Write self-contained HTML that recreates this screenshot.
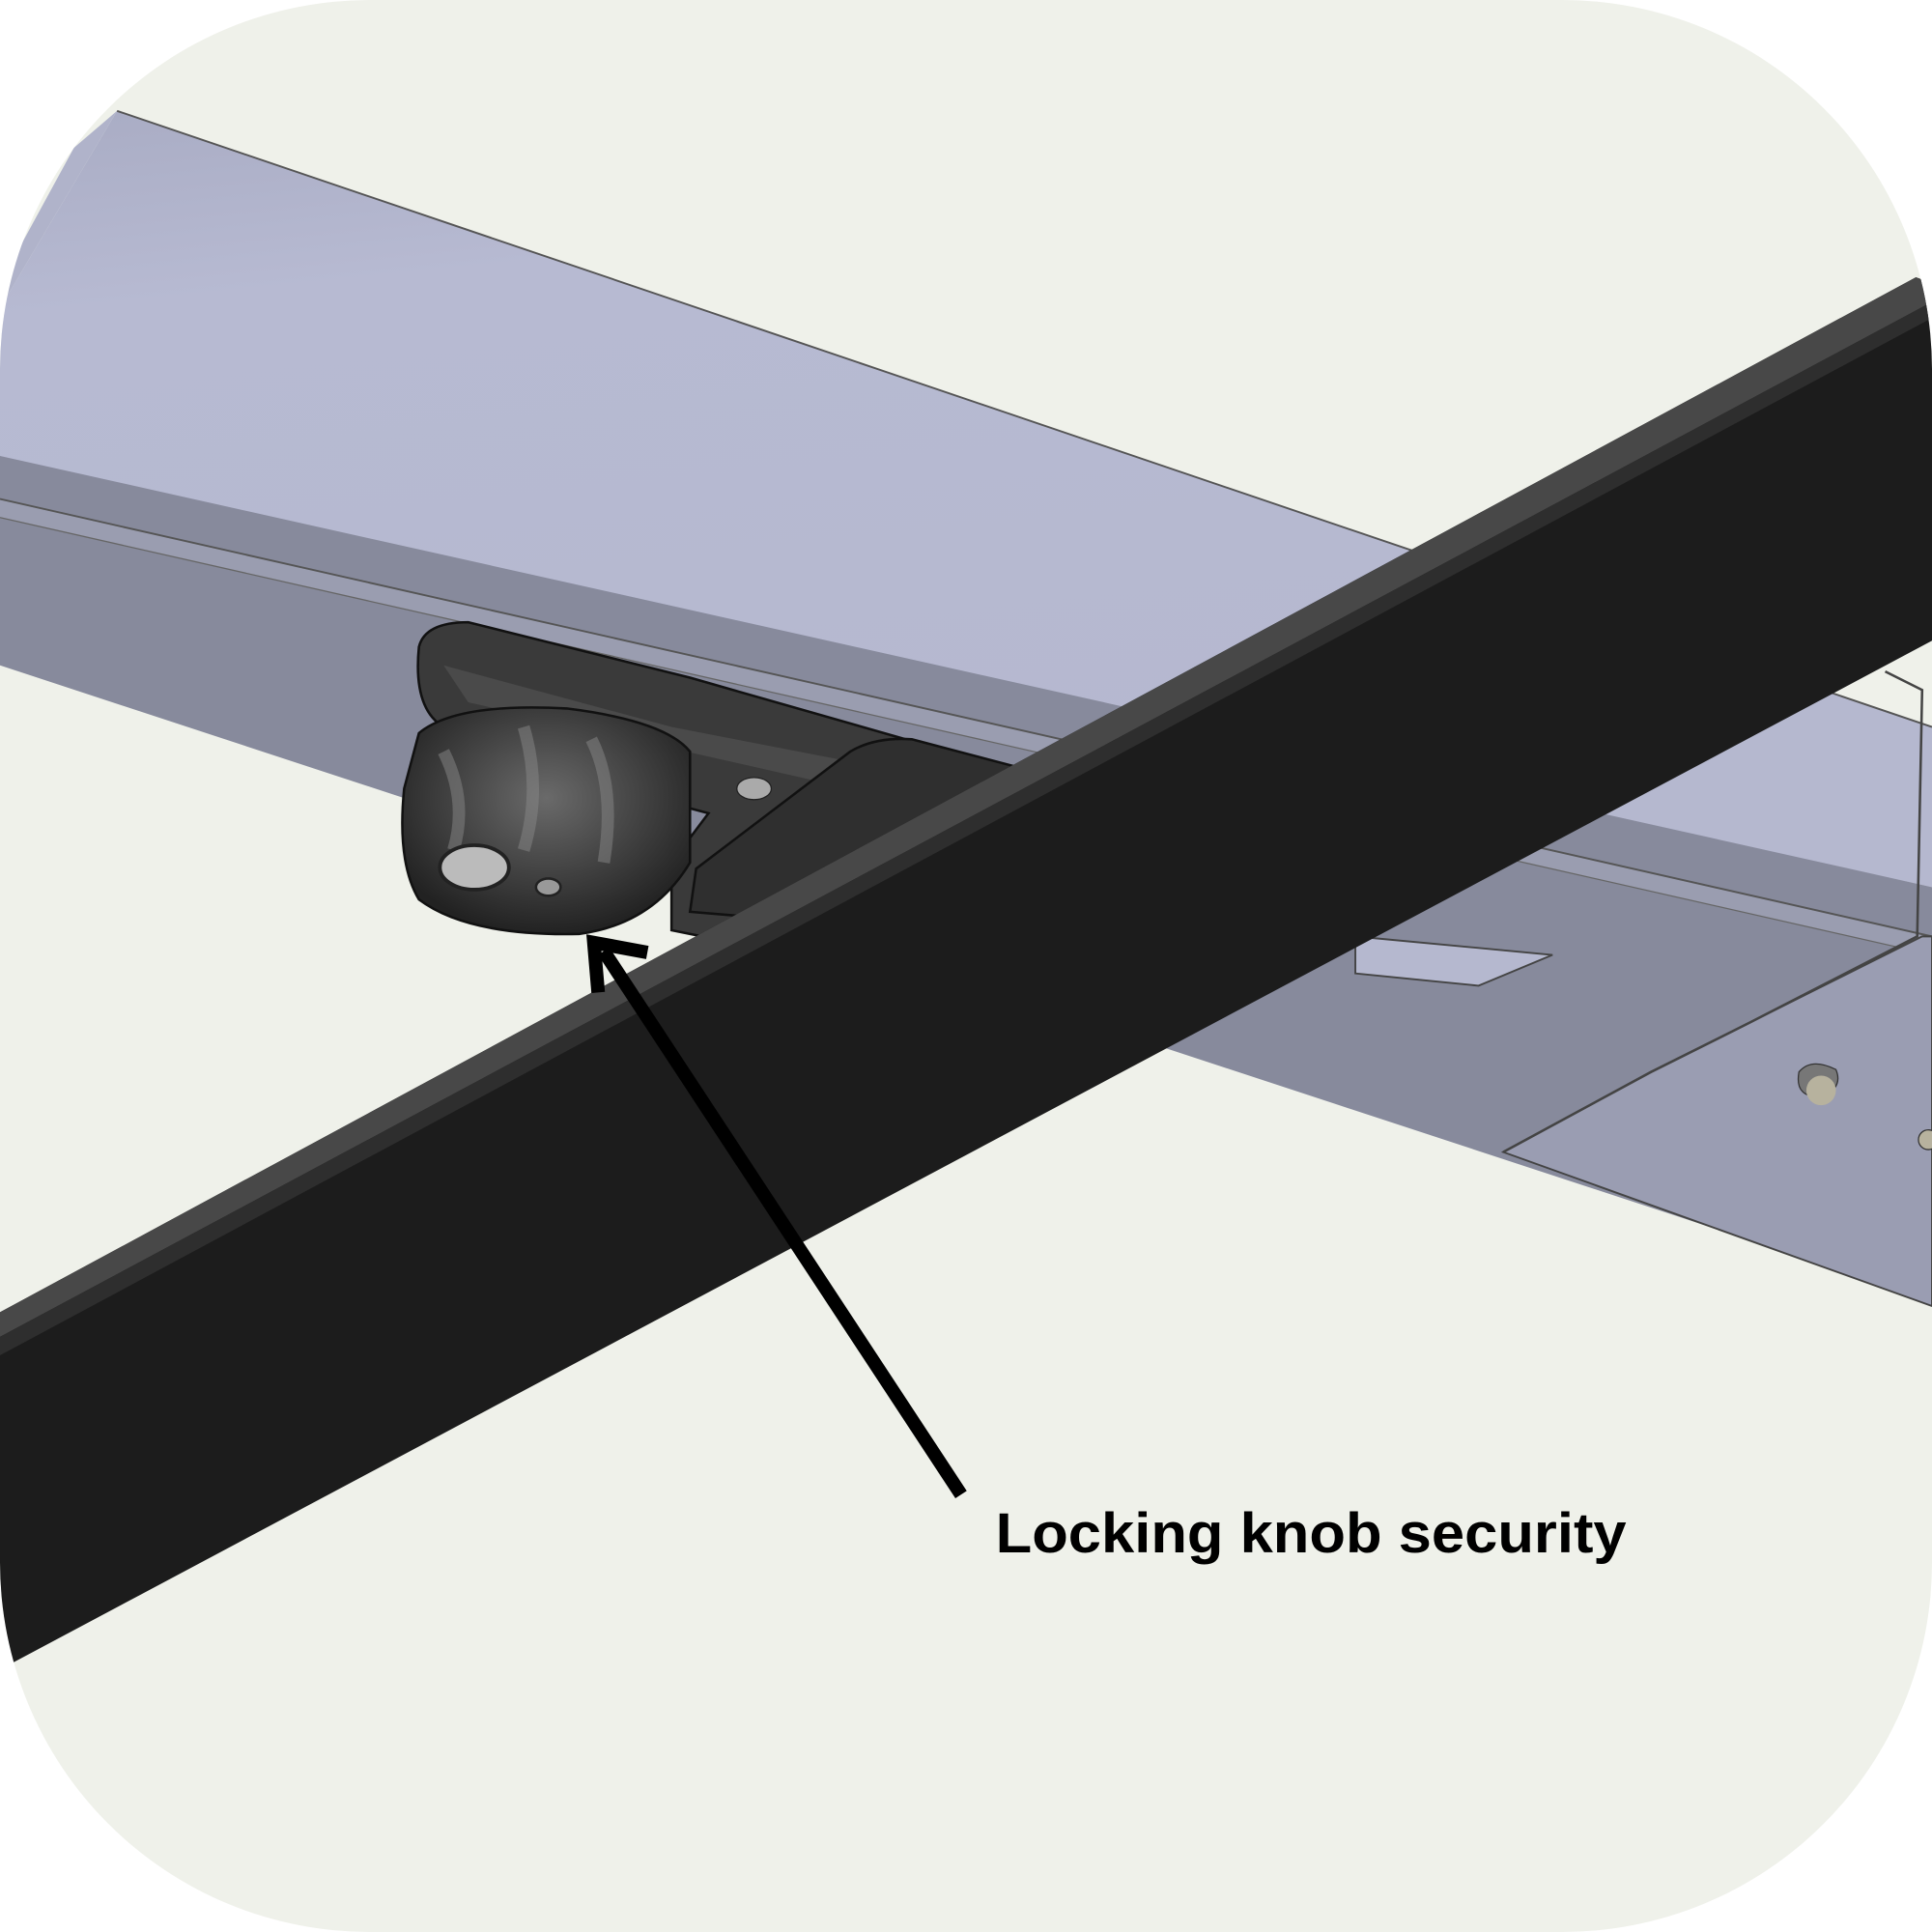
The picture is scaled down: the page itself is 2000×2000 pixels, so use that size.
<!DOCTYPE html>
<html><head><style>
html,body{margin:0;padding:0;background:#fff;}
svg{display:block}
</style></head><body>
<svg width="2000" height="2000" viewBox="0 0 1568 1568" xmlns="http://www.w3.org/2000/svg">
<defs>
<clipPath id="c"><rect x="0" y="0" width="1568" height="1568" rx="300" ry="300"/></clipPath>
<linearGradient id="bar" x1="0" y1="0" x2="0.25" y2="1">
<stop offset="0" stop-color="#a9acc4"/><stop offset="0.25" stop-color="#b7bad2"/><stop offset="1" stop-color="#b5b8cf"/>
</linearGradient>
<radialGradient id="knob" cx="0.5" cy="0.4" r="0.6">
<stop offset="0" stop-color="#6a6a6a"/><stop offset="1" stop-color="#222"/>
</radialGradient>
</defs>
<g clip-path="url(#c)">
<rect width="1568" height="1568" fill="#eff1ea"/>
<polygon points="95,90 1568,590 1568,720 0,380 0,250" fill="url(#bar)"/>
<polygon points="0,250 95,90 60,120 0,230" fill="#b0b3ca"/>
<polygon points="0,370 1568,720 1568,1055 0,540" fill="#878a9c"/>
<polygon points="0,405 1568,760 1568,775 0,420" fill="#9a9db0"/>
<line x1="0" y1="405" x2="1568" y2="760" stroke="#555" stroke-width="1.5"/>
<line x1="0" y1="420" x2="1568" y2="775" stroke="#666" stroke-width="1"/>
<line x1="95" y1="90" x2="1568" y2="590" stroke="#555" stroke-width="1.5"/>
<polygon points="1100,760 1260,775 1200,800 1100,790" fill="#b5b8cf" stroke="#444" stroke-width="1.5"/>
<path d="M1220,935 L1340,870 L1420,830 L1560,760 L1568,760 L1568,1060 Z" fill="#9a9db2" stroke="#444" stroke-width="1.5"/>
<path d="M1530,545 L1560,560 L1556,760 L1420,830 L1340,870 L1220,935" fill="none" stroke="#444" stroke-width="2"/>
<path d="M1460,870 q10,-12 30,-2 q6,14 -10,22 q-24,2 -20,-20z" fill="#777" stroke="#333"/>
<circle cx="1478" cy="885" r="12" fill="#b7b29e"/>
<circle cx="1565" cy="925" r="8" fill="#b7b29e" stroke="#333"/>
<path d="M340,525 Q345,505 380,505 L560,550 L840,630 L820,660 L760,650 L570,760 L545,755 L545,700 L575,660 L500,640 L360,590 Q335,575 340,525Z" fill="#3a3a3a" stroke="#111" stroke-width="2"/>
<path d="M360,540 L545,590 L700,620 L690,640 L380,570 Z" fill="#4a4a4a"/>
<path d="M690,610 Q710,598 740,600 L835,625 L820,665 L780,655 L620,745 L560,740 L565,705 Z" fill="#2f2f2f" stroke="#111" stroke-width="2"/>
<ellipse cx="612" cy="640" rx="14" ry="9" fill="#aaa" stroke="#222"/>
<path d="M340,595 Q370,570 460,575 Q540,585 560,610 L560,700 Q530,750 470,758 Q380,760 340,730 Q322,700 328,640 Z" fill="url(#knob)" stroke="#111" stroke-width="2"/>
<path d="M360,610 Q380,650 368,690 M425,590 Q440,640 425,690 M480,600 Q500,640 490,700" stroke="#888" stroke-width="10" fill="none" opacity="0.5"/>
<ellipse cx="385" cy="704" rx="28" ry="18" fill="#bbb" stroke="#222" stroke-width="3"/>
<ellipse cx="445" cy="720" rx="10" ry="7" fill="#999" stroke="#222" stroke-width="2"/>
<!-- black bar -->
<polygon points="0,1065 1555,225 1568,230 1568,520 0,1355" fill="#1c1c1c"/>
<polygon points="0,1065 1555,225 1568,232 1568,245 0,1085" fill="#484848"/>
<polygon points="0,1085 1568,245 1568,258 0,1100" fill="#2e2e2e"/>
<line x1="780" y1="1213" x2="490" y2="772" stroke="#000" stroke-width="11"/>
<polyline points="485,800 482,765 520,772" fill="none" stroke="#000" stroke-width="11" stroke-linejoin="miter" stroke-linecap="square"/>
<text x="808" y="1260" font-family="Liberation Sans, sans-serif" font-weight="bold" font-size="46" fill="#000" textLength="512" lengthAdjust="spacingAndGlyphs">Locking knob security</text>
</g>
</svg>
</body></html>
